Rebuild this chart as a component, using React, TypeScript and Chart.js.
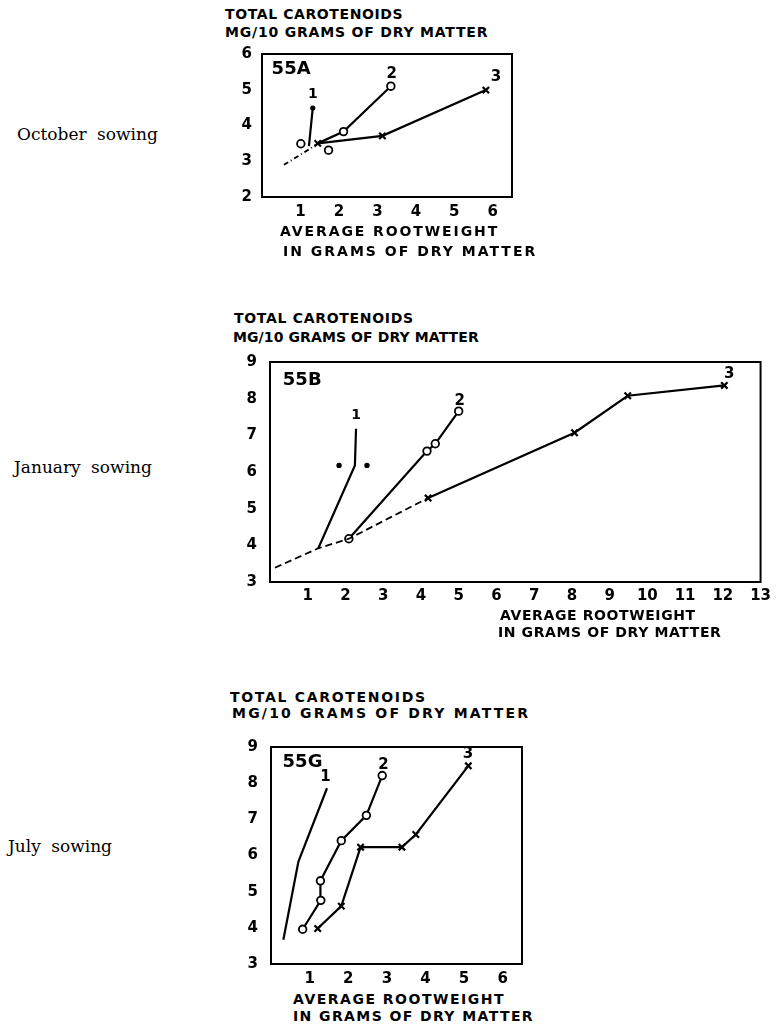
import React, { useEffect, useRef } from 'react';
import { Chart, registerables } from 'chart.js';

Chart.register(...registerables);

type Pt = { x: number; y: number };
type Lbl = { text: string; x: number; y: number; size: number; align: 'left' | 'center' };

// ---------- Panel 55A : October sowing ----------
const A_X_TICKS = [1, 2, 3, 4, 5, 6];
const A_Y_TICKS = [2, 3, 4, 5, 6];
const A_EXTRAP: Pt[] = [{ x: 0.57, y: 2.9 }, { x: 1.22, y: 3.33 }, { x: 1.45, y: 3.5 }];
const A_CURVE1: Pt[] = [{ x: 1.22, y: 3.42 }, { x: 1.32, y: 4.49 }];
const A_CURVE2: Pt[] = [{ x: 1.45, y: 3.5 }, { x: 2.12, y: 3.83 }, { x: 3.35, y: 5.1 }];
const A_CURVE2_LOOSE: Pt[] = [{ x: 1.01, y: 3.49 }, { x: 1.73, y: 3.31 }];
const A_CURVE3: Pt[] = [{ x: 1.45, y: 3.5 }, { x: 3.13, y: 3.71 }, { x: 5.82, y: 4.99 }];
const A_LABELS: Lbl[] = [
  { text: '55A', x: 0.25, y: 5.58, size: 18, align: 'left' },
  { text: '1', x: 1.32, y: 4.86, size: 14, align: 'center' },
  { text: '2', x: 3.37, y: 5.44, size: 15, align: 'center' },
  { text: '3', x: 6.08, y: 5.34, size: 15, align: 'center' },
];

// ---------- Panel 55B : January sowing ----------
const B_X_TICKS = [1, 2, 3, 4, 5, 6, 7, 8, 9, 10, 11, 12, 13];
const B_Y_TICKS = [3, 4, 5, 6, 7, 8, 9];
const B_EXTRAP: Pt[] = [{ x: 0.13, y: 3.39 }, { x: 1.28, y: 3.92 }, { x: 2.09, y: 4.18 }, { x: 4.19, y: 5.29 }];
const B_CURVE1: Pt[] = [{ x: 1.28, y: 3.92 }, { x: 2.25, y: 6.18 }, { x: 2.28, y: 7.18 }];
const B_CURVE1_DOTS: Pt[] = [{ x: 1.83, y: 6.18 }, { x: 2.57, y: 6.18 }];
const B_CURVE2: Pt[] = [{ x: 2.09, y: 4.18 }, { x: 4.16, y: 6.57 }, { x: 4.38, y: 6.77 }, { x: 5.0, y: 7.66 }];
const B_CURVE3: Pt[] = [{ x: 4.19, y: 5.29 }, { x: 8.07, y: 7.07 }, { x: 9.48, y: 8.08 }, { x: 12.04, y: 8.36 }];
const B_LABELS: Lbl[] = [
  { text: '55B', x: 0.34, y: 8.5, size: 18, align: 'left' },
  { text: '1', x: 2.28, y: 7.54, size: 14, align: 'center' },
  { text: '2', x: 5.03, y: 7.93, size: 15, align: 'center' },
  { text: '3', x: 12.17, y: 8.66, size: 15, align: 'center' },
];

// ---------- Panel 55G : July sowing ----------
const C_X_TICKS = [1, 2, 3, 4, 5, 6];
const C_Y_TICKS = [3, 4, 5, 6, 7, 8, 9];
const C_CURVE1: Pt[] = [{ x: 0.32, y: 3.67 }, { x: 0.71, y: 5.83 }, { x: 1.45, y: 7.86 }];
const C_CURVE2: Pt[] = [
  { x: 0.82, y: 3.96 }, { x: 1.29, y: 4.76 }, { x: 1.28, y: 5.3 },
  { x: 1.82, y: 6.41 }, { x: 2.47, y: 7.11 }, { x: 2.88, y: 8.21 },
];
const C_CURVE3: Pt[] = [
  { x: 1.21, y: 3.98 }, { x: 1.82, y: 4.6 }, { x: 2.32, y: 6.23 },
  { x: 3.39, y: 6.23 }, { x: 3.75, y: 6.58 }, { x: 5.11, y: 8.48 },
];
const C_LABELS: Lbl[] = [
  { text: '55G', x: 0.3, y: 8.58, size: 18, align: 'left' },
  { text: '1', x: 1.41, y: 8.18, size: 15, align: 'center' },
  { text: '2', x: 2.91, y: 8.5, size: 15, align: 'center' },
  { text: '3', x: 5.1, y: 8.79, size: 15, align: 'center' },
];

const FONT = 'DejaVu Sans';

const framePlugin = {
  id: 'frame',
  afterDatasetsDraw(chart: any) {
    const { ctx, chartArea } = chart;
    const { left, top, right, bottom } = chartArea;
    ctx.save();
    ctx.strokeStyle = '#000';
    ctx.lineWidth = 2;
    ctx.strokeRect(left, top, right - left, bottom - top);
    ctx.restore();
  },
};

const labelPlugin = {
  id: 'annot',
  afterDatasetsDraw(chart: any, _args: any, opts: any) {
    const items: Lbl[] = (opts && opts.items) || [];
    const { ctx } = chart;
    const xs = chart.scales.x;
    const ys = chart.scales.y;
    ctx.save();
    ctx.fillStyle = '#000';
    ctx.textBaseline = 'middle';
    for (const it of items) {
      ctx.font = `bold ${it.size}px "${FONT}"`;
      ctx.textAlign = it.align;
      ctx.fillText(it.text, xs.getPixelForValue(it.x), ys.getPixelForValue(it.y));
    }
    ctx.restore();
  },
};

const line = (data: Pt[], extra: any = {}) => ({
  data,
  borderColor: '#000',
  borderWidth: 2.2,
  pointRadius: 0,
  pointBackgroundColor: '#fff',
  pointBorderColor: '#000',
  fill: false,
  tension: 0,
  ...extra,
});

const circles = (n: number, skipFirst = false) => ({
  pointStyle: 'circle',
  pointRadius: Array.from({ length: n }, (_, i) => (skipFirst && i === 0 ? 0 : 3.8)),
  pointBorderWidth: 1.8,
});
const crosses = (n: number) => ({
  pointStyle: 'crossRot',
  pointRadius: Array.from({ length: n }, () => 4.5),
  pointBorderWidth: 2.2,
});

type PanelProps = {
  frame: { l: number; t: number; r: number; b: number };
  xMax: number;
  yMin: number;
  yMax: number;
  xTicks: number[];
  yTicks: number[];
  xPad: number;
  yPad: number;
  datasets: any[];
  labels: Lbl[];
};

function Panel(p: PanelProps) {
  const ref = useRef<HTMLCanvasElement | null>(null);
  const yAxisW = 34;
  const xAxisH = 26;
  const padT = 12;
  const padR = 14;
  const left = p.frame.l - yAxisW;
  const top = p.frame.t - padT;
  const width = p.frame.r + padR - left;
  const height = p.frame.b + xAxisH - top;

  useEffect(() => {
    if (!ref.current) return;
    const tickFont = { family: FONT, weight: 'bold' as const, size: 15 };
    const chart = new Chart(ref.current, {
      type: 'line',
      data: { datasets: p.datasets },
      plugins: [framePlugin, labelPlugin],
      options: {
        responsive: false,
        animation: false,
        events: [],
        layout: { padding: { top: padT, right: padR, left: 0, bottom: 0 } },
        plugins: {
          legend: { display: false },
          tooltip: { enabled: false },
          // @ts-ignore
          annot: { items: p.labels },
        },
        scales: {
          x: {
            type: 'linear',
            min: 0,
            max: p.xMax,
            grid: { display: false, drawTicks: false },
            border: { display: false },
            ticks: { font: tickFont, color: '#000', padding: p.xPad, maxRotation: 0, autoSkip: false },
            afterBuildTicks: (s: any) => { s.ticks = p.xTicks.map((v) => ({ value: v })); },
            afterFit: (s: any) => { s.height = xAxisH; },
          },
          y: {
            type: 'linear',
            min: p.yMin,
            max: p.yMax,
            grid: { display: false, drawTicks: false },
            border: { display: false },
            ticks: { font: tickFont, color: '#000', padding: p.yPad, autoSkip: false },
            afterBuildTicks: (s: any) => { s.ticks = p.yTicks.map((v) => ({ value: v })); },
            afterFit: (s: any) => { s.width = yAxisW; },
          },
        },
      } as any,
    });
    return () => chart.destroy();
  }, []);

  return (
    <canvas
      ref={ref}
      width={width}
      height={height}
      style={{ position: 'absolute', left, top, width, height }}
    />
  );
}

const head: React.CSSProperties = {
  position: 'absolute',
  whiteSpace: 'nowrap',
  fontFamily: `"${FONT}"`,
  fontWeight: 'bold',
  fontSize: 14,
  lineHeight: '18px',
  color: '#000',
};
const side: React.CSSProperties = {
  position: 'absolute',
  whiteSpace: 'nowrap',
  fontFamily: '"DejaVu Serif"',
  fontSize: 17,
  lineHeight: '20px',
  wordSpacing: 5,
  color: '#000',
};

const T = (left: number, top: number, text: string, ls: number) => (
  <div style={{ ...head, left, top, letterSpacing: ls }}>{text}</div>
);

export default function App() {
  return (
    <div style={{ position: 'absolute', left: 0, top: 0, width: 782, height: 1028, background: '#fff', overflow: 'hidden' }}>
      {/* Panel A */}
      {T(225, 5, 'TOTAL CAROTENOIDS', 0.6)}
      {T(225, 23, 'MG/10 GRAMS OF DRY MATTER', 0.8)}
      <div style={{ ...side, left: 17, top: 124 }}>October sowing</div>
      <Panel
        frame={{ l: 262, t: 47, r: 512, b: 197 }}
        xMax={6.5} yMin={2} yMax={6}
        xTicks={A_X_TICKS} yTicks={A_Y_TICKS}
        xPad={6} yPad={10}
        labels={A_LABELS}
        datasets={[
          line(A_EXTRAP, { borderDash: [5, 3, 1, 3], borderWidth: 1.8 }),
          line(A_CURVE1, { pointStyle: 'circle', pointRadius: [0, 1.5], pointBackgroundColor: '#000' }),
          line(A_CURVE2, circles(A_CURVE2.length, true)),
          line(A_CURVE2_LOOSE, { ...circles(A_CURVE2_LOOSE.length), showLine: false }),
          line(A_CURVE3, crosses(A_CURVE3.length)),
        ]}
      />
      {T(280, 222, 'AVERAGE ROOTWEIGHT', 1.9)}
      {T(283, 242, 'IN GRAMS OF DRY MATTER', 2.0)}

      {/* Panel B */}
      {T(234, 309, 'TOTAL CAROTENOIDS', 0.7)}
      {T(233, 328, 'MG/10 GRAMS OF DRY MATTER', 0.1)}
      <div style={{ ...side, left: 14, top: 457 }}>January sowing</div>
      <Panel
        frame={{ l: 270, t: 352, r: 762, b: 582 }}
        xMax={13} yMin={3} yMax={9}
        xTicks={B_X_TICKS} yTicks={B_Y_TICKS}
        xPad={5} yPad={13}
        labels={B_LABELS}
        datasets={[
          line(B_EXTRAP, { borderDash: [7, 4], borderWidth: 1.8 }),
          line(B_CURVE1),
          line(B_CURVE1_DOTS, { showLine: false, pointStyle: 'circle', pointRadius: 1.6, pointBackgroundColor: '#000' }),
          line(B_CURVE2, circles(B_CURVE2.length)),
          line(B_CURVE3, crosses(B_CURVE3.length)),
        ]}
      />
      {T(500, 606, 'AVERAGE ROOTWEIGHT', 0.6)}
      {T(498, 623, 'IN GRAMS OF DRY MATTER', 0.6)}

      {/* Panel C */}
      {T(230, 688, 'TOTAL CAROTENOIDS', 1.7)}
      {T(232, 704, 'MG/10 GRAMS OF DRY MATTER', 2.2)}
      <div style={{ ...side, left: 8, top: 836 }}>July sowing</div>
      <Panel
        frame={{ l: 271, t: 737, r: 522, b: 964 }}
        xMax={6.5} yMin={3} yMax={9}
        xTicks={C_X_TICKS} yTicks={C_Y_TICKS}
        xPad={6} yPad={13}
        labels={C_LABELS}
        datasets={[
          line(C_CURVE1),
          line(C_CURVE2, circles(C_CURVE2.length)),
          line(C_CURVE3, crosses(C_CURVE3.length)),
        ]}
      />
      {T(293, 990, 'AVERAGE ROOTWEIGHT', 1.5)}
      {T(293, 1007, 'IN GRAMS OF DRY MATTER', 1.4)}
    </div>
  );
}
